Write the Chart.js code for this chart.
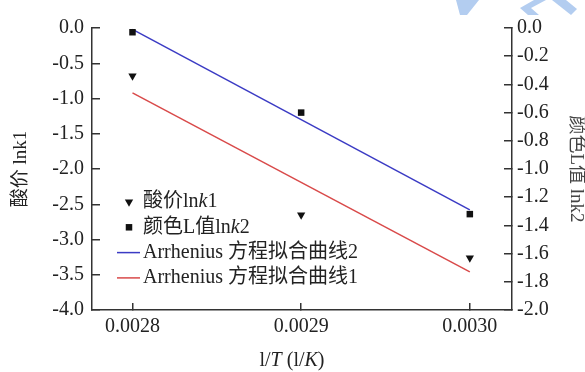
<!DOCTYPE html>
<html>
<head>
<meta charset="utf-8">
<script src="https://cdn.jsdelivr.net/npm/chart.js@4.4.1/dist/chart.umd.min.js"></script>
<style>
  html, body { margin: 0; padding: 0; background: #fff; }
  #wrap { width: 585px; height: 372px; }
</style>
</head>
<body>
<div id="wrap"><canvas id="chart" width="585" height="372"></canvas></div>
<script>
// values
const xValues = [0.0028, 0.0029, 0.0030];
const acidLnk1 = [-0.68, -2.65, -3.26];
const colorLnk2 = [-0.03, -0.60, -1.32];
const fitX = [0.0028, 0.0030];
const fitLine2 = [-0.01, -1.29];
const fitLine1 = [-0.92, -3.46];

const xTicks = [0.0028, 0.0029, 0.0030];
const yTicks = [0, -0.5, -1.0, -1.5, -2.0, -2.5, -3.0, -3.5, -4.0];
const y2Ticks = [0, -0.2, -0.4, -0.6, -0.8, -1.0, -1.2, -1.4, -1.6, -1.8, -2.0];

const FONT = '"Liberation Serif", "Noto Sans CJK SC", serif';
const axisColor = '#333';
const textColor = '#222';

const legendParts = [
  [['酸价ln', false], ['k', true], ['1', false]],
  [['颜色L值ln', false], ['k', true], ['2', false]],
  [['Arrhenius 方程拟合曲线2', false]],
  [['Arrhenius 方程拟合曲线1', false]]
];
const xTitleParts = [['l/', false], ['T', true], [' (l/', false], ['K', true], [')', false]];

function pts(xs, ys) {
  return xs.map((x, i) => ({ x: x, y: ys[i] }));
}

function partsWidth(ctx, parts, size) {
  let w = 0;
  parts.forEach(([t, it]) => {
    ctx.font = (it ? 'italic ' : '') + size + 'px ' + FONT;
    w += ctx.measureText(t).width;
  });
  return w;
}

function drawParts(ctx, parts, x, y, size) {
  parts.forEach(([t, it]) => {
    ctx.font = (it ? 'italic ' : '') + size + 'px ' + FONT;
    ctx.fillText(t, x, y);
    x += ctx.measureText(t).width;
  });
}

function drawMarker(ctx, style, x, y, r, color) {
  ctx.fillStyle = color;
  ctx.beginPath();
  if (style === 'triangle') {
    // pointing down
    ctx.moveTo(x - r * 0.866, y - r * 0.5);
    ctx.lineTo(x + r * 0.866, y - r * 0.5);
    ctx.lineTo(x, y + r);
  } else {
    const s = r * Math.SQRT1_2;
    ctx.rect(x - s, y - s, 2 * s, 2 * s);
  }
  ctx.closePath();
  ctx.fill();
}

const extrasPlugin = {
  id: 'extras',
  beforeDraw(chart) {
    // faint watermark fragment in the top right corner
    const ctx = chart.ctx;
    ctx.save();
    ctx.fillStyle = '#b3cdf0';
    const shapes = [
      [[456, 0], [479, 0], [467, 15], [460, 15]],
      [[534, 0], [546, 0], [531, 8], [539, 15], [528, 15], [520, 8]],
      [[552, 0], [566, 0], [577, 9], [571, 15]]
    ];
    shapes.forEach(s => {
      ctx.beginPath();
      s.forEach(([px, py], i) => (i ? ctx.lineTo(px, py) : ctx.moveTo(px, py)));
      ctx.closePath();
      ctx.fill();
    });
    ctx.restore();
  },
  afterDraw(chart) {
    const ctx = chart.ctx;
    const area = chart.chartArea;
    ctx.save();
    ctx.textBaseline = 'middle';
    ctx.fillStyle = textColor;

    // legend inside the plot, lower left
    const mx = area.left + 37;
    const tx = area.left + 51;
    const y0 = area.bottom - 108;
    chart.data.datasets.forEach((ds, i) => {
      const y = y0 + i * 25.3;
      if (ds.showLine) {
        ctx.strokeStyle = ds.borderColor;
        ctx.lineWidth = ds.borderWidth;
        ctx.beginPath();
        ctx.moveTo(mx - 12, y);
        ctx.lineTo(mx + 11, y);
        ctx.stroke();
      } else {
        drawMarker(ctx, ds.pointStyle, mx, y, ds.pointRadius, ds.backgroundColor);
      }
      ctx.fillStyle = textColor;
      drawParts(ctx, legendParts[i], tx, y, 20);
    });

    // x axis title with italic T and K
    const w = partsWidth(ctx, xTitleParts, 20);
    const cx = (area.left + area.right) / 2 - 10;
    drawParts(ctx, xTitleParts, cx - w / 2, 361, 20);
    ctx.restore();
  }
};

const tickFont = { family: FONT, size: 20 };

new Chart(document.getElementById('chart'), {
  type: 'scatter',
  data: {
    datasets: [
      {
        label: '酸价lnk1',
        data: pts(xValues, acidLnk1),
        yAxisID: 'y',
        showLine: false,
        pointStyle: 'triangle',
        rotation: 180,
        pointRadius: 4.8,
        pointHoverRadius: 4.8,
        borderWidth: 0,
        backgroundColor: '#111',
        borderColor: '#111'
      },
      {
        label: '颜色L值lnk2',
        data: pts(xValues, colorLnk2),
        yAxisID: 'y2',
        showLine: false,
        pointStyle: 'rect',
        pointRadius: 4.6,
        pointHoverRadius: 4.6,
        borderWidth: 0,
        backgroundColor: '#111',
        borderColor: '#111'
      },
      {
        label: 'Arrhenius 方程拟合曲线2',
        data: pts(fitX, fitLine2),
        yAxisID: 'y2',
        showLine: true,
        pointRadius: 0,
        borderWidth: 1.5,
        borderColor: '#3b3bc4'
      },
      {
        label: 'Arrhenius 方程拟合曲线1',
        data: pts(fitX, fitLine1),
        yAxisID: 'y',
        showLine: true,
        pointRadius: 0,
        borderWidth: 1.5,
        borderColor: '#d94a4a'
      }
    ]
  },
  options: {
    responsive: false,
    animation: false,
    devicePixelRatio: 1,
    layout: { padding: { top: 22, left: 0, right: 0, bottom: 0 } },
    plugins: {
      legend: { display: false },
      tooltip: { enabled: false }
    },
    scales: {
      x: {
        type: 'linear',
        min: 0.002776,
        max: 0.003025,
        afterBuildTicks: s => { s.ticks = xTicks.map(v => ({ value: v })); },
        afterFit: s => { s.height = 62; },
        border: { color: axisColor, width: 1.5 },
        grid: { drawOnChartArea: false, tickLength: -7, color: axisColor, lineWidth: 1.5 },
        ticks: {
          font: tickFont, color: textColor, padding: 12, maxRotation: 0,
          callback: v => v.toFixed(4)
        }
      },
      y: {
        position: 'left',
        min: -4,
        max: 0,
        afterBuildTicks: s => { s.ticks = yTicks.map(v => ({ value: v })); },
        afterFit: s => { s.width = 92; },
        border: { color: axisColor, width: 1.5 },
        grid: { drawOnChartArea: false, tickLength: -8, color: axisColor, lineWidth: 1.5 },
        ticks: { font: tickFont, color: textColor, padding: 16, callback: v => v.toFixed(1) },
        title: {
          display: true,
          text: '酸价 lnk1',
          color: textColor,
          font: { family: FONT, size: 19, lineHeight: 1 },
          padding: { top: 12, bottom: 0 }
        }
      },
      y2: {
        position: 'right',
        min: -2,
        max: 0,
        afterBuildTicks: s => { s.ticks = y2Ticks.map(v => ({ value: v })); },
        afterFit: s => { s.width = 73; },
        border: { color: axisColor, width: 1.5 },
        grid: { drawOnChartArea: false, tickLength: -8, color: axisColor, lineWidth: 1.5 },
        ticks: { font: tickFont, color: textColor, padding: 13, callback: v => v.toFixed(1) },
        title: {
          display: true,
          text: '颜色L值 lnk2',
          color: '#444',
          font: { family: FONT, size: 19, lineHeight: 1 },
          padding: { top: 0, bottom: 0 }
        }
      }
    }
  },
  plugins: [extrasPlugin]
});
</script>
</body>
</html>
